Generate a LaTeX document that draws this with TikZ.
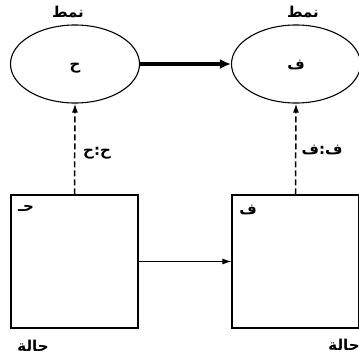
\documentclass[tikz,border=0pt]{standalone}
\usepackage{fontspec}
\usetikzlibrary{shapes.geometric,arrows.meta}
\TeXXeTstate=1
\newfontfamily\arabicfont[Script=Arabic]{DejaVu Sans}
\begin{document}
\begin{tikzpicture}[x=1pt,y=-1pt,
  patt/.style={draw,ellipse,line width=1.1pt,minimum width=129pt,minimum height=78pt,inner sep=0pt},
  statebox/.style={draw,rectangle,line width=1.4pt,minimum width=127pt,minimum height=133pt,inner sep=0pt},
  lbl/.style={font=\arabicfont\bfseries\fontsize{15}{17}\selectfont,inner sep=1pt},
  dasharrow/.style={line width=1.5pt,dash pattern=on 6pt off 3pt,-{Latex[length=9pt,width=6pt]}},
  thickarrow/.style={line width=4pt,-{Latex[length=11pt,width=10pt]}},
  thinarrow/.style={line width=0.9pt,-{Latex[length=9pt,width=6pt]}}]
\useasboundingbox (0,0) rectangle (359,359);
\clip (0,0) rectangle (359,359);
\fill[white] (0,0) rectangle (359,359);
% ellipses
\node[patt] (pl) at (75,64) {};
\node[patt] (pr) at (296,64) {};
\node[lbl] (pltext) at (75,68) {\beginR ح\endR};
\node[lbl] (prtext) at (296,65) {\beginR ف\endR};
\node[lbl] (pltop) at (68,12) {\beginR نمط\endR};
\node[lbl] (prtop) at (303,12) {\beginR نمط\endR};
% boxes
\node[statebox] (sl) at (74.5,261.5) {};
\node[statebox] (sr) at (295.5,261.5) {};
\node[lbl] (sltext) at (26,208) {\beginR حـ\endR};
\node[lbl] (srtext) at (248,210) {\beginR ف\endR};
\node[lbl] (slbot) at (33,346) {\beginR حالة\endR};
\node[lbl] (srbot) at (344,345) {\beginR حالة\endR};
% connectors
\draw[thickarrow] (pl.east) -- (pr.west);
\draw[thinarrow] (sl.east) -- (sr.west);
\draw[dasharrow] (sl.north) -- (pl.south);
\draw[dasharrow] (sr.north) -- (pr.south);
\node[lbl] (dl) at (97,153) {\beginR ح:ح\endR};
\node[lbl] (dr) at (322,150) {\beginR ف:ف\endR};
\end{tikzpicture}
\end{document}
